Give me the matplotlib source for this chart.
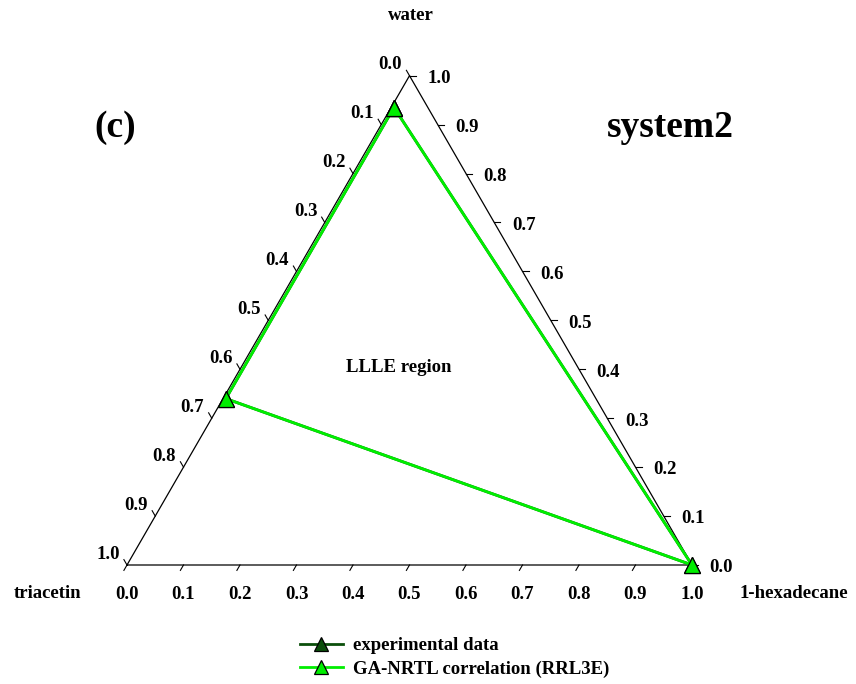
import numpy as np
import matplotlib
matplotlib.use("Agg")
import matplotlib.pyplot as plt
from matplotlib.lines import Line2D

plt.rcParams['font.family'] = ['Liberation Serif', 'DejaVu Serif']
plt.rcParams['font.weight'] = 'bold'

# Mole fractions of the three-phase (LLLE) tie triangle
triacetin_exp = [0.060, 0.655, 0.000]
water_exp = [0.935, 0.340, 0.000]
hexadecane_exp = [0.005, 0.005, 1.000]

triacetin_calc = [0.060, 0.655, 0.000]
water_calc = [0.935, 0.340, 0.000]
hexadecane_calc = [0.005, 0.005, 1.000]

tick_values = [0.0, 0.1, 0.2, 0.3, 0.4, 0.5, 0.6, 0.7, 0.8, 0.9, 1.0]

H = np.sqrt(3) / 2


def to_xy(hexa, water):
    hexa = np.asarray(hexa, float)
    water = np.asarray(water, float)
    return hexa + 0.5 * water, H * water


fig = plt.figure(figsize=(8.56, 6.84), dpi=100)
ax = fig.add_axes([0, 0, 1, 1])
ax.set_xlim(-127 / 565, (856 - 127) / 565)
ax.set_ylim(-119 / 565, (684 - 119) / 565)
ax.axis('off')

# Triangle frame
bx, by = to_xy([0, 1, 0, 0], [0, 0, 1, 0])
ax.plot(bx, by, color='black', lw=0.9, zorder=2)

tl = 0.011
fs = 13.5
for v in tick_values:
    lab = f"{v:.1f}"
    # bottom axis: 1-hexadecane
    x, y = to_xy(v, 0)
    ax.plot([x, x - 0.5 * tl], [y, y - H * tl], color='black', lw=0.8)
    ax.text(x, y - 0.053, lab, ha='center', va='center', fontsize=fs, fontweight='bold')
    # right axis: water
    x, y = to_xy(1 - v, v)
    ax.plot([x, x + tl], [y, y], color='black', lw=0.8)
    ax.text(x + 0.052, y - 0.005, lab, ha='center', va='center', fontsize=fs, fontweight='bold')
    # left axis: triacetin
    x, y = to_xy(0, 1 - v)
    ax.plot([x, x - 0.5 * tl], [y, y + H * tl], color='black', lw=0.8)
    ax.text(x - 0.034, y + 0.019, lab, ha='center', va='center', fontsize=fs, fontweight='bold')

ax.text(0.503, 0.973, "water", ha='center', va='center', fontsize=fs, fontweight='bold')
ax.text(-0.141, -0.050, "triacetin", ha='center', va='center', fontsize=fs, fontweight='bold')
ax.text(1.181, -0.050, "1-hexadecane", ha='center', va='center', fontsize=fs, fontweight='bold')

ax.text(-0.021, 0.775, "(c)", ha='center', va='center', fontsize=27, fontweight='bold')
ax.text(0.961, 0.775, "system2", ha='center', va='center', fontsize=27, fontweight='bold')
ax.text(0.481, 0.350, "LLLE region", ha='center', va='center', fontsize=13.5, fontweight='bold')

exp_color = '#0b4f0b'
calc_color = '#00ee00'

# Tie triangles (closed)
xe, ye = to_xy(hexadecane_exp + hexadecane_exp[:1], water_exp + water_exp[:1])
ax.plot(xe, ye, color=exp_color, lw=2.0, marker='^', ms=11.5, mfc=exp_color, mec='black',
        mew=0.9, zorder=3)
xc, yc = to_xy(hexadecane_calc + hexadecane_calc[:1], water_calc + water_calc[:1])
ax.plot(xc, yc, color=calc_color, lw=2.0, marker='^', ms=11.5, mfc=calc_color, mec='black',
        mew=0.9, zorder=4)

handles = [
    Line2D([], [], color=exp_color, lw=2.0, marker='^', ms=10.5, mfc=exp_color, mec='black', mew=0.9),
    Line2D([], [], color=calc_color, lw=2.0, marker='^', ms=10.5, mfc=calc_color, mec='black', mew=0.9),
]
fig.legend(handles, ["experimental data", "GA-NRTL correlation (RRL3E)"],
           loc='center left', bbox_to_anchor=(0.350, 0.0387), frameon=False,
           prop={'size': 13.5, 'weight': 'bold'}, handlelength=2.3, handletextpad=0.55,
           labelspacing=0.33, borderaxespad=0, borderpad=0)

fig.savefig("out.png", dpi=100)
